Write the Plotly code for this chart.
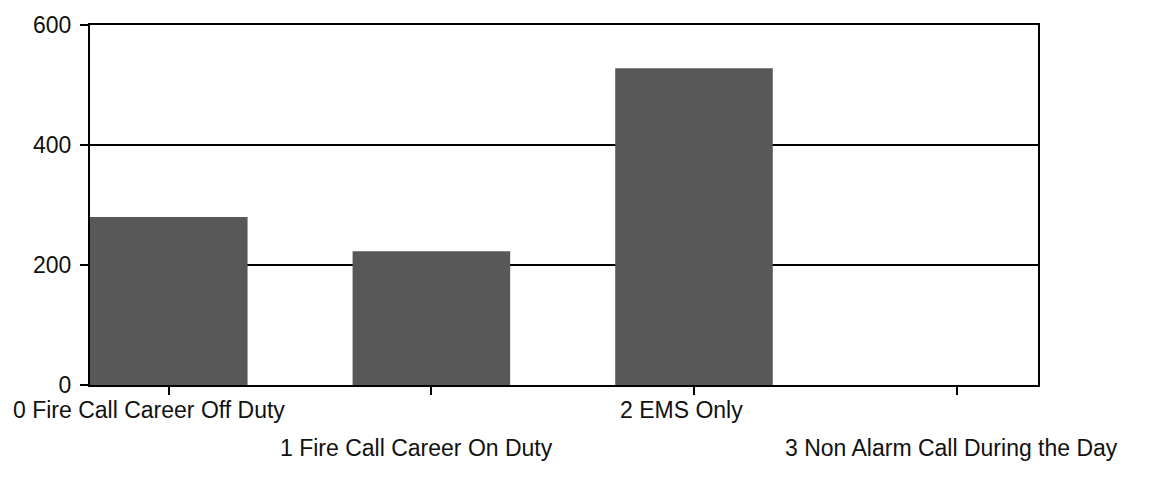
import plotly.graph_objects as go

categories = ["0 Fire Call Career Off Duty", "1 Fire Call Career On Duty",
              "2 EMS Only", "3 Non Alarm Call During the Day"]
values = [280, 223, 528, 0]
y_ticks = [0, 200, 400, 600]
label_shift = [-20, -15, -12, -5]

FONT = "Liberation Sans, Arial, sans-serif"

fig = go.Figure()
fig.add_trace(go.Bar(
    x=categories, y=values, width=0.6,
    marker=dict(color="#585858", line=dict(width=0)),
    showlegend=False,
))

for i, c in enumerate(categories):
    row = i % 2
    fig.add_annotation(
        x=c, xref="x", y=0, yref="paper", text=c, showarrow=False,
        xanchor="center", yanchor="middle",
        yshift=-25 - row * 38, xshift=label_shift[i],
        font=dict(family=FONT, size=23, color="#111"),
    )

fig.update_layout(
    width=1158, height=480,
    margin=dict(l=82, r=128, t=17, b=103),
    plot_bgcolor="white", paper_bgcolor="white",
    xaxis=dict(
        type="category", range=[-0.3, 3.31], automargin=False,
        showticklabels=False, ticks="outside", ticklen=8, tickwidth=2,
        tickcolor="black", showline=True, linecolor="black", linewidth=2,
        mirror=True, showgrid=False,
    ),
    yaxis=dict(
        range=[0, 600], tickvals=y_ticks, ticks="outside", ticklen=8,
        automargin=False, ticklabelstandoff=4,
        tickwidth=2, tickcolor="black", showline=True, linecolor="black",
        linewidth=2, mirror=True, showgrid=True, gridcolor="black",
        gridwidth=2, zeroline=False,
        tickfont=dict(family=FONT, size=23, color="#111"),
    ),
)

fig.write_html("out.html")
